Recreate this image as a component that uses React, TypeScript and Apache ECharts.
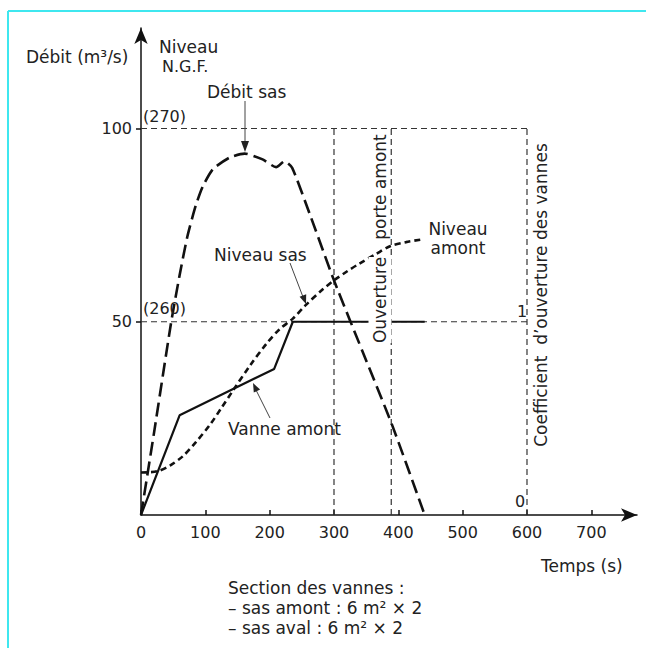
import React, { useEffect, useRef } from 'react';
import * as echarts from 'echarts';

// Axis ticks
const xTicks = [0, 100, 200, 300, 400, 500, 600, 700];
const yTicks = [50, 100];

// Débit sas (m3/s) vs temps (s)
const debitT = [0, 20, 47, 60, 72, 85, 96, 112, 138, 161, 189, 210, 223, 235, 262, 300, 350, 391, 441];
const debitQ = [0, 21, 50, 62, 72, 80, 85, 89.5, 92.5, 93.5, 92, 90, 91.5, 89.8, 78, 60.7, 40, 23, 0];

// Niveau sas / amont (scaled on the Débit axis: 50 = 260, 100 = 270)
const niveauT = [0, 25, 45, 65, 85, 107, 125, 143, 170, 195, 215, 236, 256, 280, 300, 320, 339, 365, 388, 412, 437];
const niveauH = [11, 11.3, 12.8, 15.2, 18.8, 23.3, 27.7, 32.2, 38.8, 44.3, 48, 50.8, 54.3, 58, 60.7, 63, 65, 67.5, 69.6, 70.6, 71.3];

// Vanne amont opening (50 = coefficient 1)
const vanneT = [0, 60, 207, 236, 441];
const vanneC = [0, 25.8, 37.8, 50, 50];

// Reference frame
const refLevels = [50, 100];
const refTimes = [300, 389, 600];
const refStart = 0;
const refEnd = 600;
const refTop = 100;

const FONT = 'DejaVu Sans';
const TXT = '#222';

const zip = (a: number[], b: number[]) => a.map((v, i) => [v, b[i]]);

export default function App() {
  const ref = useRef<HTMLDivElement>(null);
  useEffect(() => {
    if (!ref.current) return;
    const chart = echarts.init(ref.current, null, { renderer: 'svg' });
    const dashed = { color: '#333', width: 1.2, type: [6, 4] as any };
    const refSeries: any[] = [];
    refLevels.forEach((lv) =>
      refSeries.push({
        type: 'line', data: [[refStart, lv], [refEnd, lv]], symbol: 'none', z: 1,
        lineStyle: dashed, silent: true,
      })
    );
    refTimes.forEach((t) =>
      refSeries.push({
        type: 'line', data: [[t, 0], [t, refTop]], symbol: 'none', z: 1,
        lineStyle: dashed, silent: true,
      })
    );
    const text = (t: string, x: number, y: number, extra: any = {}) => ({
      type: 'text', x, y, z: 10,
      style: {
        text: t, fill: TXT, fontFamily: FONT, fontSize: 17,
        align: 'left', verticalAlign: 'middle', ...extra,
      },
    });
    const vtext = (t: string, x: number, y: number, extra: any = {}) => ({
      type: 'text', x, y, z: 10, rotation: Math.PI / 2,
      style: {
        text: t, fill: TXT, fontFamily: FONT, fontSize: 17,
        align: 'center', verticalAlign: 'middle', ...extra,
      },
    });
    const head = (pts: number[][]) => ({
      type: 'polygon', z: 10, shape: { points: pts }, style: { fill: '#222' },
    });
    const seg = (x1: number, y1: number, x2: number, y2: number, color = '#444', w = 1) => ({
      type: 'line', z: 10, shape: { x1, y1, x2, y2 }, style: { stroke: color, lineWidth: w },
    });

    chart.setOption({
      animation: false,
      backgroundColor: '#fff',
      grid: { left: 141, right: 9, top: 28, bottom: 133 },
      xAxis: {
        type: 'value', min: 0, max: 771,
        axisLine: {
          show: true, symbol: ['none', 'arrow'], symbolSize: [10, 16],
          lineStyle: { color: '#111', width: 1.5 },
        },
        axisTick: { show: true, inside: true, length: 5, customValues: xTicks, lineStyle: { color: '#111', width: 1.5 } },
        axisLabel: { customValues: xTicks, color: TXT, fontSize: 16, fontFamily: FONT, margin: 9 },
        splitLine: { show: false },
      },
      yAxis: {
        type: 'value', min: 0, max: 126,
        axisLine: {
          show: true, symbol: ['none', 'arrow'], symbolSize: [10, 16],
          lineStyle: { color: '#111', width: 1.5 },
        },
        axisTick: { show: true, length: 5, customValues: yTicks, lineStyle: { color: '#111', width: 1.5 } },
        axisLabel: { customValues: yTicks, color: TXT, fontSize: 16, fontFamily: FONT, margin: 9 },
        splitLine: { show: false },
      },
      series: [
        ...refSeries,
        {
          name: 'Débit sas', type: 'line', data: zip(debitT, debitQ), symbol: 'none', z: 3,
          smooth: 0.2,
          lineStyle: { color: '#111', width: 2.6, type: [14, 6] },
        },
        {
          name: 'Niveau', type: 'line', data: zip(niveauT, niveauH), symbol: 'none', z: 3,
          smooth: 0.3,
          lineStyle: { color: '#111', width: 2.6, type: [6, 4] },
        },
        {
          name: 'Vanne amont', type: 'line', data: zip(vanneT, vanneC), symbol: 'none', z: 3,
          lineStyle: { color: '#111', width: 2.2 },
        },
      ],
      graphic: [
        // cyan frame of the scan
        seg(8, 11, 646, 11, '#3fe7ef', 2),
        seg(8, 11, 8, 648, '#3fe7ef', 2),
        // axis titles
        text('Débit (m³/s)', 26, 57),
        text('Niveau', 159, 47),
        text('N.G.F.', 162, 66, { fontSize: 16 }),
        text('(270)', 143, 116, { fontSize: 16 }),
        text('(260)', 143, 308, { fontSize: 16 }),
        text('Temps (s)', 541, 566),
        // annotations
        text('Débit sas', 207, 92),
        seg(245, 101, 245, 146),
        head([[241, 141], [249, 141], [245, 152]]),
        text('Niveau sas', 214, 255),
        seg(290, 263, 303, 297),
        head([[306.2, 294.3], [299.6, 296.7], [306, 304]]),
        text('Vanne amont', 228, 429),
        seg(270, 418, 256, 390),
        head([[260.1, 389.6], [253.8, 392.6], [253, 383]]),
        text('Niveau', 458, 229, { align: 'center' }),
        text('amont', 458, 248, { align: 'center' }),
        vtext('porte amont', 380, 187),
        vtext('Ouverture', 380, 300, { backgroundColor: '#fff', padding: [3, 0, 3, 0] }),
        vtext('Coefficient  d\u2019ouverture des vannes', 541, 295),
        text('1', 522, 311, { align: 'center', fontSize: 16 }),
        text('0', 520, 501, { align: 'center', fontSize: 16 }),
        // footnote
        text('Section des vannes :', 228, 588),
        text('\u2013 sas amont : 6 m² × 2', 228, 608),
        text('\u2013 sas aval : 6 m² × 2', 228, 628),
      ],
    });
    return () => chart.dispose();
  }, []);
  return (
    <div
      ref={ref}
      style={{ position: 'fixed', left: 0, top: 0, width: 646, height: 648, background: '#fff' }}
    />
  );
}
